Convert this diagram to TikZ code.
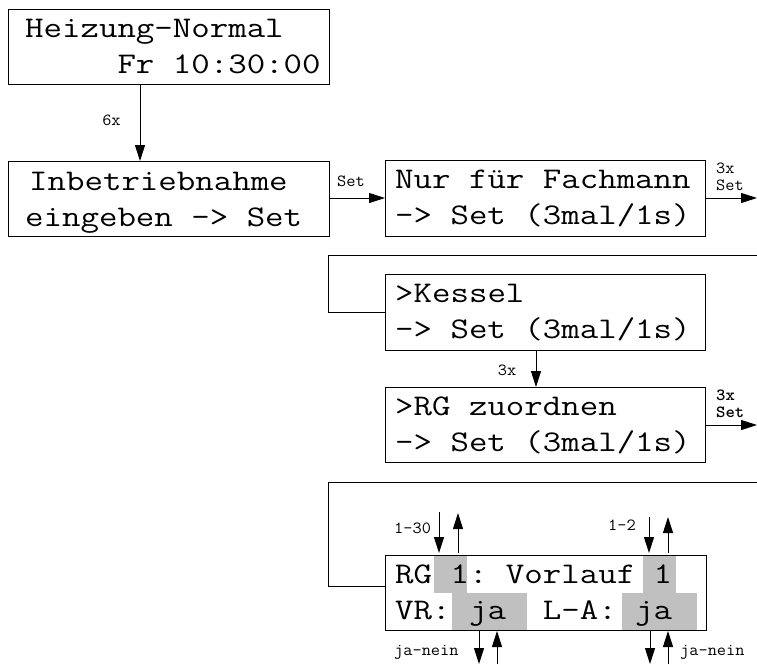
\documentclass[tikz,border=0pt]{standalone}
\usepackage{graphicx}
\usetikzlibrary{arrows.meta,calc}
\definecolor{hl}{RGB}{192,192,192}
\newcommand\lcdt[1]{\scalebox{1.195}[1]{#1}}
\newcommand\lblt[1]{\scalebox{1.05}[1]{#1}}
\begin{document}
\begin{tikzpicture}[x=1pt,y=-1pt,
  box/.style={draw, line width=1pt, minimum height=75pt, anchor=north west, inner sep=0pt},
  lcd/.style={font=\ttfamily\fontsize{30}{36}\selectfont, anchor=base west, inner sep=0pt},
  lbl/.style={font=\ttfamily\fontsize{17}{17}\selectfont, inner sep=0pt},
  lblb/.style={font=\ttfamily\bfseries\fontsize{17}{17}\selectfont, inner sep=0pt},
  arr/.style={line width=1pt, -{Triangle[length=16pt,width=10pt]}},
  ln/.style={line width=1pt}]
\useasboundingbox (0,0) rectangle (757,664);
% highlighted cells
\fill[hl] (434,555) rectangle (467,593);
\fill[hl] (643,555) rectangle (676,593);
\fill[hl] (452,593) rectangle (527,630);
\fill[hl] (622,593) rectangle (697,630);
% boxes
\node[box, minimum width=321pt] (b1) at (8,9) {};
\node[box, minimum width=321pt] (b2) at (8,161) {};
\node[box, minimum width=320pt, minimum height=76pt] (b3) at (385,160) {};
\node[box, minimum width=320pt, minimum height=76pt] (bk) at (385,274) {};
\node[box, minimum width=320pt] (bz) at (385,387) {};
\node[box, minimum width=321pt] (br) at (385,555) {};
% texts
\node[lcd] (t1a) at (25,37) {\lcdt{Heizung-Normal}};
\node[lcd] (t1b) at (25,73) {\lcdt{~~~~~Fr~10:30:00}};
\node[lcd] (t2a) at (29,190) {\lcdt{Inbetriebnahme}};
\node[lcd] (t2b) at (25,226) {\lcdt{eingeben~->~Set}};
\node[lcd] (t3a) at (395,188) {\lcdt{Nur~für~Fachmann}};
\node[lcd] (t3b) at (395,224) {\lcdt{->~Set~(3mal/1s)}};
\node[lcd] (tka) at (395,302) {\lcdt{>Kessel}};
\node[lcd] (tkb) at (395,338) {\lcdt{->~Set~(3mal/1s)}};
\node[lcd] (tza) at (395,415) {\lcdt{>RG~zuordnen}};
\node[lcd] (tzb) at (395,451) {\lcdt{->~Set~(3mal/1s)}};
\node[lcd] (tra) at (395,583) {\lcdt{RG~1:~Vorlauf~1}};
\node[lcd] (trb) at (395,619) {\lcdt{VR:~ja~~L-A:~ja}};
% labels
\node[lbl, anchor=base] (l6x) at (111.5,125) {\lblt{6x}};
\node[lbl, anchor=base] (lset) at (351,186) {\lblt{Set}};
\node[lbl, anchor=south west, align=left] (l3) at (716,191) {\lblt{3x}\\\lblt{Set}};
\node[lbl, anchor=base] (lk) at (507,375) {\lblt{3x}};
\node[lblb, anchor=south west, align=left] (l4) at (716,418) {\lblt{3x}\\\lblt{Set}};
\node[lbl, anchor=base west] (l130) at (394,533) {\lblt{1-30}};
\node[lbl, anchor=base west] (l12) at (608,530) {\lblt{1-2}};
\node[lbl, anchor=base west] (ljn1) at (394,655) {\lblt{ja-nein}};
\node[lbl, anchor=base west] (ljn2) at (680,655) {\lblt{ja-nein}};
% free ends
\coordinate (e1) at (757,198);
\coordinate (e2) at (757,255);
\coordinate (e3) at (757,482);
\coordinate (e4) at (757,425);
\coordinate (u1) at (439,512);
\coordinate (u2) at (458,513);
\coordinate (u3) at (649,517);
\coordinate (u4) at (668,517);
\coordinate (d1) at (479,664);
\coordinate (d2) at (497,664);
\coordinate (d3) at (650,664);
\coordinate (d4) at (668,664);
% connectors
\draw[arr] ($(b1.south west)+(132,0)$) -- ($(b2.north west)+(132,0)$);
\draw[arr] ($(b2.north east)+(0,37)$) -- ($(b3.north west)+(0,38)$);
\draw[arr] ($(b3.north east)+(0,38)$) -- (e1);
\draw[ln] (e2) -| ($(bk.west)+(-57,0)$) -- (bk.west);
\draw[arr] ($(bk.south west)+(151,0)$) -- ($(bz.north west)+(151,0)$);
\draw[arr] ($(bz.north east)+(0,38)$) -- (e4);
\draw[ln] (e3) -| ($(br.north west)+(-57,31)$) -- ($(br.north west)+(0,31)$);
\draw[arr] (u1) -- ($(br.north west)+(54,-2)$);
\draw[arr] ($(br.north west)+(73,-2)$) -- (u2);
\draw[arr] (u3) -- ($(br.north west)+(264,-2)$);
\draw[arr] ($(br.north west)+(283,-2)$) -- (u4);
\draw[arr] ($(br.south west)+(94,0)$) -- (d1);
\draw[arr] (d2) -- ($(br.south west)+(112,0)$);
\draw[arr] ($(br.south west)+(265,0)$) -- (d3);
\draw[arr] (d4) -- ($(br.south west)+(283,0)$);
\end{tikzpicture}
\end{document}
